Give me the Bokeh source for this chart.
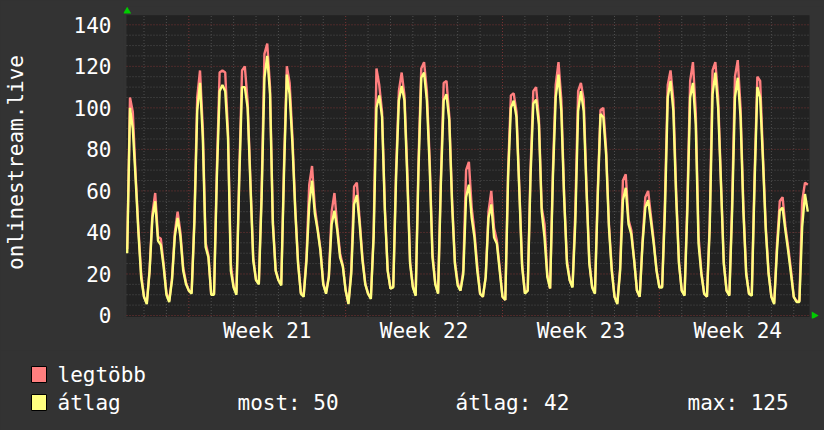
import numpy as np
from bokeh.plotting import figure
from bokeh.layouts import column
from bokeh.models import FixedTicker, Range1d
from bokeh.core.properties import value
from bokeh.embed import file_html
from bokeh.resources import INLINE

# ---------------- data ----------------
# time in days relative to the start of Week 21, one sample every 3 hours
T_START = -2.75
T_STEP = 1 / 8

legtobb = [
    32, 105, 98, 68, 42, 20,
    9, 6, 22, 49, 59, 38, 37, 25,
    11, 7, 18, 40, 50, 40, 23, 16,
    12, 11, 47, 105, 118, 90, 35, 29,
    10, 10.5, 70, 117, 118, 117, 88, 25,
    14, 11, 68, 118, 120, 103, 65, 28,
    17, 15.5, 60, 126, 131, 110, 46, 22,
    17, 15, 73, 120, 112, 86, 52, 26,
    11, 10, 28, 63, 72, 52, 42, 32,
    15.5, 11, 19, 50, 59, 43, 30, 24,
    12, 6, 22, 62, 64, 46, 28, 15.5,
    10.5, 8.5, 40, 119, 111, 98, 52, 22,
    13, 14, 70, 108, 117, 106, 70, 26,
    14, 10, 74, 119, 122, 108, 75, 30,
    15.5, 11, 66, 112, 113, 96, 56, 26,
    16, 12, 22, 70, 74, 52, 40, 24,
    10.5, 9, 18.5, 50, 60, 42, 36, 23,
    9, 7.5, 70, 106, 107, 98, 62, 25,
    11, 12, 70, 108, 110, 95, 52, 44,
    20, 13, 70, 111, 122, 104, 58, 27,
    17, 14, 50, 108, 112, 104, 62, 26,
    14, 11, 60, 99, 100, 80, 44, 23,
    9, 6, 23, 65, 68, 46, 41, 27,
    12, 9, 36, 57, 60, 48, 36, 22,
    14, 14, 55, 111, 118, 104, 60, 26,
    12, 10, 55, 113, 122, 98, 38, 21,
    10.5, 9, 45, 118, 122, 105, 65, 26,
    12, 10, 55, 115, 123, 100, 53, 21,
    10.5, 10, 67, 115, 113, 77, 43, 21,
    9, 6, 34, 55, 57, 43, 33, 22,
    9, 7, 7, 55, 64, 63,
]

atlag = [
    30, 100, 90, 66, 40, 18,
    9, 5.5, 21.5, 47, 55, 36, 34, 23.5,
    10, 6.5, 17, 38, 47, 38, 21.5, 15,
    12, 10.5, 45, 98.5, 112, 85.5, 33, 28,
    10, 10, 66, 108, 111, 108, 85.5, 21.5,
    13.5, 10, 65, 110, 110, 100, 63, 26.5,
    17, 15, 57, 114.5, 125, 106.5, 44, 21.5,
    17, 14.5, 69.5, 116, 106.5, 82.5, 50.5, 25,
    10.5, 9, 26, 53.5, 65, 49, 41, 31,
    15, 10.5, 18.5, 44, 50.5, 41, 28, 23.5,
    12, 5.5, 20, 53.5, 58, 44, 26.5, 15,
    10.5, 8, 38, 100, 106, 95.5, 50.5, 21.5,
    13, 13.5, 66.5, 103.5, 110.5, 103.5, 66.5, 25,
    13.5, 9.5, 69.5, 114.5, 117, 103.5, 71.5, 28,
    15, 10.5, 63.5, 103.5, 106.5, 94, 53.5, 25,
    14.5, 12, 20, 57, 63, 47, 37.5, 21.5,
    10.5, 9, 18.5, 47, 53.5, 37.5, 34.5, 21.5,
    9, 7.5, 66.5, 100, 103.5, 95.5, 60, 23.5,
    10.5, 12, 66.5, 102, 104, 92, 50, 37.5,
    18.5, 13, 66.5, 105, 116, 98.5, 57, 25,
    17, 13.5, 45, 98.5, 108, 98.5, 60, 25,
    13.5, 10.5, 57, 97, 95.5, 77.5, 42.5, 21.5,
    9, 5.5, 21.5, 55.5, 61.5, 44, 39, 26.5,
    12, 9, 34.5, 52, 55.5, 45.5, 34.5, 21.5,
    13.5, 13.5, 50.5, 105, 113, 98.5, 57, 25,
    12, 9.5, 50.5, 105, 112, 92, 34.5, 20,
    10.5, 9, 42.5, 106.5, 117, 100, 63.5, 25,
    12, 9.5, 50.5, 105, 114.5, 95.5, 50.5, 20,
    10.5, 9.5, 63.5, 110, 105, 74.5, 41, 20,
    9, 5.5, 31, 50.5, 52, 41, 31, 20,
    9, 6.5, 6.5, 42.5, 58.5, 50,
]

week_labels = ["Week 21", "Week 22", "Week 23", "Week 24"]
week_label_pos = [3.5, 10.5, 17.5, 24.5]
week_starts = [0, 7, 14, 21]
y_ticks = [0, 20, 40, 60, 80, 100, 120, 140]

series_names = ["legtöbb", "átlag"]
stat_most = 50
stat_atlag = 42
stat_max = 125
y_axis_title = "onlinestream.live"

# ---------------- style ----------------
FONT = "DejaVu Sans Mono"
FSIZE = "21px"
BG = "#333333"
CANVAS = "#222222"
RED = "#FF7F7F"
YEL = "#FFFF7F"
GRID_MINOR = "#505050"
GRID_MAJOR = "#7a3434"
ARROW = "#00CC00"

FRAME_LEFT = 121
FRAME_BOTTOM = 318

x_lo, x_hi = -2.781, 27.704     # drawing canvas extent (days)
y_lo, y_hi = -0.72, 144.6       # drawing canvas extent (value)

t = T_START + T_STEP * np.arange(len(atlag))

p = figure(width=824, height=350,
           x_range=Range1d(-2.915, 28.282), y_range=Range1d(-1.445, 148.81),
           output_backend="svg", toolbar_location=None,
           min_border_left=FRAME_LEFT, min_border_right=2, min_border_top=6,
           min_border_bottom=350 - FRAME_BOTTOM,
           background_fill_color=BG, border_fill_color=BG,
           outline_line_color=None, styles={"background-color": BG})
p.xgrid.visible = False
p.ygrid.visible = False

# canvas
p.quad(left=x_lo, right=x_hi, bottom=y_lo, top=y_hi,
       fill_color=CANVAS, line_color=None)

# grid
minor_h = [v for v in range(5, 145, 5) if v % 20]
days = [d for d in range(-2, 28) if d % 7]
p.segment(x0=x_lo, x1=x_hi, y0=minor_h, y1=minor_h,
          line_color=GRID_MINOR, line_dash="1 2", line_width=1)
p.segment(x0=days, x1=days, y0=y_lo, y1=y_hi,
          line_color=GRID_MINOR, line_dash="1 2", line_width=1)
p.segment(x0=x_lo, x1=x_hi, y0=y_ticks, y1=y_ticks,
          line_color=GRID_MAJOR, line_dash="1 2", line_width=1)
p.segment(x0=week_starts, x1=week_starts, y0=y_lo, y1=y_hi,
          line_color=GRID_MAJOR, line_dash="1 2", line_width=1)

# series
p.line(t, legtobb, line_color=RED, line_width=2.4)
p.line(t, atlag, line_color=YEL, line_width=2.4)

# axis arrows
p.scatter(x=[x_lo + 0.03], y=[y_hi + 1.9], marker="triangle", size=8,
          fill_color=ARROW, line_color=None)
p.scatter(x=[x_hi + 0.2], y=[0], marker="triangle", angle=-np.pi / 2, size=8,
          fill_color=ARROW, line_color=None)

# axes
p.xaxis.ticker = FixedTicker(ticks=week_label_pos)
p.xaxis.major_label_overrides = dict(zip(week_label_pos, week_labels))
p.yaxis.ticker = FixedTicker(ticks=y_ticks)
for ax in (p.xaxis[0], p.yaxis[0]):
    ax.axis_line_color = None
    ax.major_tick_line_color = None
    ax.minor_tick_line_color = None
    ax.major_tick_out = 0
    ax.major_tick_in = 0
    ax.major_label_text_color = "#FFFFFF"
    ax.major_label_text_font = FONT
    ax.major_label_text_font_size = FSIZE
p.xaxis.major_label_standoff = 0
p.yaxis.major_label_standoff = 12
p.yaxis.axis_label = y_axis_title
p.yaxis.axis_label_text_font = FONT
p.yaxis.axis_label_text_font_size = FSIZE
p.yaxis.axis_label_text_font_style = "normal"
p.yaxis.axis_label_text_color = "#FFFFFF"
p.yaxis.axis_label_standoff = 43

# ---------------- legend panel ----------------
lg = figure(width=824, height=80, x_range=Range1d(0, 824), y_range=Range1d(80, 0),
            output_backend="svg", toolbar_location=None,
            x_axis_type=None, y_axis_type=None,
            min_border_left=0, min_border_right=0, min_border_top=0,
            min_border_bottom=0,
            background_fill_color=BG, border_fill_color=BG,
            outline_line_color=None, styles={"background-color": BG})
lg.xgrid.visible = False
lg.ygrid.visible = False

lg.rect(x=[38.5, 38.5], y=[24, 52], width=15, height=16,
        fill_color=[RED, YEL], line_color="#000000", line_width=1)
lg.text(x=[57, 57], y=[24, 52], text=series_names,
        text_font=value(FONT), text_font_size=FSIZE, text_color="#FFFFFF",
        text_baseline="alphabetic", text_align="left")
lg.text(x=[237, 455, 687], y=[52, 52, 52],
        text=[f"most: {stat_most}", f"átlag: {stat_atlag}", f"max: {stat_max}"],
        text_font=value(FONT), text_font_size=FSIZE, text_color="#FFFFFF",
        text_baseline="alphabetic", text_align="left")

for fig in (p, lg):
    if "frame_align" in fig.properties():
        fig.frame_align = False

layout = column(p, lg, spacing=0, styles={"background-color": BG})
open("out.html", "w").write(file_html(layout, INLINE))
